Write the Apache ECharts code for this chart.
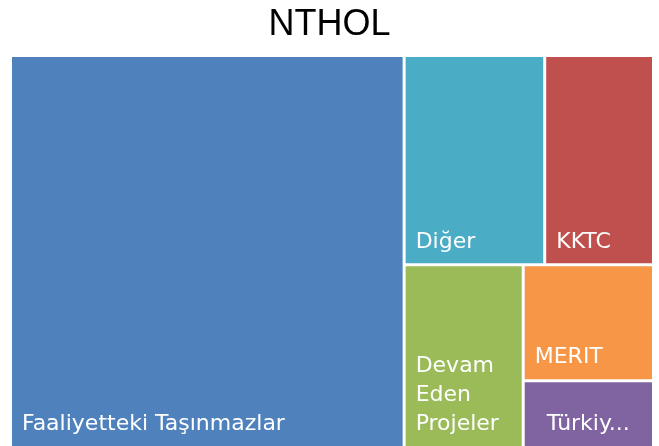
<!DOCTYPE html>
<html>
<head>
<meta charset="UTF-8">
<title>NTHOL</title>
<script src="https://cdn.jsdelivr.net/npm/echarts@6/dist/echarts.min.js"></script>
<style>
    html, body { margin: 0; padding: 0; background: #fff; }
    #chart { width: 659px; height: 446px; }
</style>
</head>
<body>
<div id="chart"></div>
<script>
    // kategoriler ve paylar (%), resimden okunan alan oranları
    var names = ['Faaliyetteki Taşınmazlar', 'Diğer', 'KKTC', 'Devam Eden Projeler', 'MERIT', 'Türkiye'];
    var labels = ['Faaliyetteki Taşınmazlar', 'Diğer', 'KKTC', 'Devam\nEden\nProjeler', 'MERIT', 'Türkiy...'];
    var values = [60.3, 11.5, 8.9, 8.5, 5.9, 3.4];
    var colors = ['#4f81bd', '#4bacc6', '#c0504d', '#9bbb59', '#f79646', '#8064a2'];

    var myChart = echarts.init(document.getElementById('chart'));

    function leaf(i) {
        return {
            name: names[i],
            value: values[i],
            itemStyle: { color: colors[i] },
            label: { formatter: labels[i] }
        };
    }
    // gruplar sadece yerleşimi tutmak için (etiketsiz)
    function group(children) {
        var sum = 0;
        for (var i = 0; i < children.length; i++) sum += children[i].value;
        return { name: '', value: sum, label: { show: false }, children: children };
    }

    var data = [
        leaf(0),
        group([
            group([leaf(1), leaf(2)]),
            group([leaf(3), group([leaf(4), leaf(5)])])
        ])
    ];
    // kısaltılmış etiket biraz içeride duruyor
    data[1].children[1].children[1].children[1].label.padding = [0, 0, 7, 22];

    var lvl = { itemStyle: { gapWidth: 3, borderWidth: 0 }, upperLabel: { show: false } };

    var option = {
        animation: false,
        title: {
            text: 'NTHOL',
            left: 'center',
            top: 2,
            textStyle: {
                fontFamily: 'Liberation Sans',
                fontWeight: 'normal',
                fontSize: 36,
                color: '#000'
            }
        },
        series: [{
            type: 'treemap',
            left: 12,
            top: 57,
            right: 7,
            bottom: 0,
            roam: false,
            nodeClick: false,
            breadcrumb: { show: false },
            sort: false,
            squareRatio: 1,
            levels: [lvl, lvl, lvl, lvl],
            label: {
                show: true,
                position: 'insideBottomLeft',
                padding: [0, 0, 7, 10],
                color: '#fff',
                fontFamily: 'DejaVu Sans',
                fontSize: 22,
                lineHeight: 29
            },
            data: data
        }]
    };

    myChart.setOption(option);
</script>
</body>
</html>
